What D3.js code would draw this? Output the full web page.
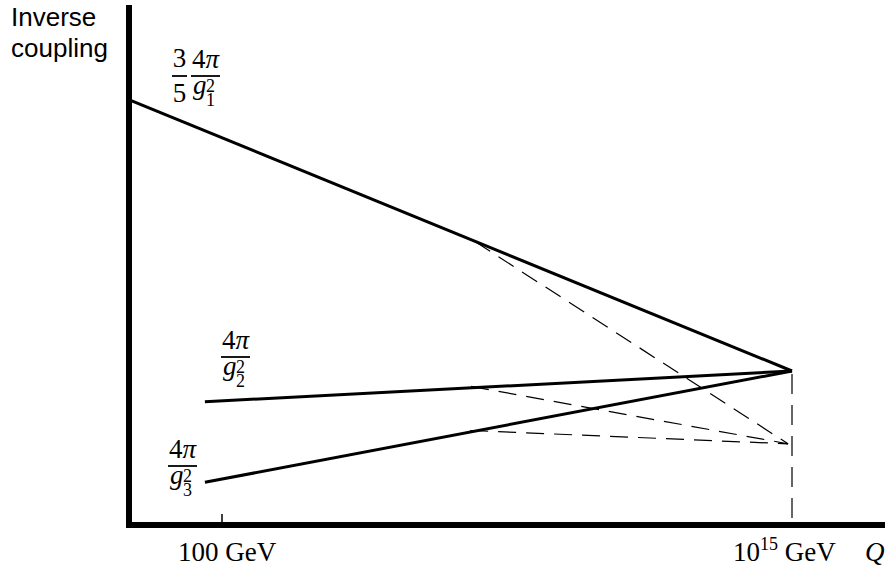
<!DOCTYPE html>
<html><head><meta charset="utf-8">
<script src="https://cdn.jsdelivr.net/npm/d3@7"></script>
<style>body{margin:0;background:#fff}</style>
</head><body><svg id="chart" width="888" height="567"></svg>
<script>
// Running of the inverse gauge couplings vs log10(Q / GeV)
const couplingIndex = ["1", "2", "3"];
const startLogQ = [-0.1, 1.61, 1.61];
const startInv = [60.7, 17.6, 6.1];
const unifyLogQ = 15;
const unifyInv = 22.0;
// alternative running above a threshold (dashed)
const thresholdLogQ = [7.77, 7.68, 7.66];
const thresholdInv = [40.5, 19.8, 13.5];
const altUnifyLogQ = 14.91;
const altUnifyInv = 11.6;
const tickLogQ = [2, 15];

const svg = d3.select("#chart");
const x = d3.scaleLinear().domain([2, 15]).range([222, 792]);
const y = d3.scaleLinear().domain([0, 60]).range([525, 105]);
const line = d3.line().x(d => x(d[0])).y(d => y(d[1]));
const serif = "'Liberation Serif', 'DejaVu Serif', serif";
const sans = "'Liberation Sans', Arial, sans-serif";

// dashed alternatives
couplingIndex.forEach((c, i) => {
  svg.append("path")
    .attr("d", line([[thresholdLogQ[i], thresholdInv[i]], [altUnifyLogQ, altUnifyInv]]))
    .attr("fill", "none").attr("stroke", "#000").attr("stroke-width", 1.2)
    .attr("stroke-dasharray", "18,10");
});
// vertical dashed marker at the unification scale
svg.append("path")
  .attr("d", line([[unifyLogQ, unifyInv], [unifyLogQ, 0]]))
  .attr("fill", "none").attr("stroke", "#000").attr("stroke-width", 1.2)
  .attr("stroke-dasharray", "20,11").attr("stroke-dashoffset", -3);

// solid running lines
couplingIndex.forEach((c, i) => {
  svg.append("path")
    .attr("d", line([[startLogQ[i], startInv[i]], [unifyLogQ, unifyInv]]))
    .attr("fill", "none").attr("stroke", "#000").attr("stroke-width", 3);
});

// axes
svg.append("line").attr("x1", 129).attr("x2", 129).attr("y1", 5).attr("y2", 528)
  .attr("stroke", "#000").attr("stroke-width", 6);
svg.append("line").attr("x1", 126).attr("x2", 885).attr("y1", y(0)).attr("y2", y(0))
  .attr("stroke", "#000").attr("stroke-width", 6);
svg.append("line").attr("x1", x(tickLogQ[0])).attr("x2", x(tickLogQ[0]))
  .attr("y1", y(0) - 11).attr("y2", y(0))
  .attr("stroke", "#000").attr("stroke-width", 1.5);

// tick labels
svg.append("text").attr("x", x(tickLogQ[0]) - 44).attr("y", 561)
  .attr("font-family", serif).attr("font-size", 27).text("100 GeV");
const t15 = svg.append("text").attr("x", x(tickLogQ[1]) - 59).attr("y", 561)
  .attr("font-family", serif).attr("font-size", 27);
t15.append("tspan").text("10");
t15.append("tspan").attr("font-size", 18).attr("dy", -11).text("15");
t15.append("tspan").attr("dy", 11).text(" GeV");
svg.append("text").attr("x", 865).attr("y", 561)
  .attr("font-family", serif).attr("font-size", 27).attr("font-style", "italic").text("Q");

// y label
svg.append("text").attr("x", 11).attr("y", 26)
  .attr("font-family", sans).attr("font-size", 26).text("Inverse");
svg.append("text").attr("x", 11).attr("y", 57)
  .attr("font-family", sans).attr("font-size", 26).text("coupling");

// fraction helpers
function frac(x0, w, barY) {
  svg.append("line").attr("x1", x0).attr("x2", x0 + w).attr("y1", barY).attr("y2", barY)
    .attr("stroke", "#000").attr("stroke-width", 1.8);
}
function fourPiOverG(x0, barY, idx) {
  frac(x0, 29, barY);
  const num = svg.append("text").attr("x", x0 + 14.5).attr("y", barY - 8)
    .attr("text-anchor", "middle").attr("font-family", serif).attr("font-size", 27);
  num.append("tspan").text("4");
  num.append("tspan").attr("font-style", "italic").text("π");
  // g with stacked superscript 2 and subscript index
  const den = svg.append("text").attr("x", x0 + 2).attr("y", barY + 18)
    .attr("font-family", serif).attr("font-size", 27);
  den.append("tspan").attr("font-style", "italic").text("g");
  den.append("tspan").attr("x", x0 + 15).attr("dy", -2).attr("font-size", 18).text("2");
  den.append("tspan").attr("x", x0 + 15).attr("dy", 14).attr("font-size", 18).text(idx);
}
// 3/5 * 4π/g1²
frac(172, 15, 76);
svg.append("text").attr("x", 179.5).attr("y", 67).attr("text-anchor", "middle")
  .attr("font-family", serif).attr("font-size", 27).text("3");
svg.append("text").attr("x", 179.5).attr("y", 102).attr("text-anchor", "middle")
  .attr("font-family", serif).attr("font-size", 27).text("5");
fourPiOverG(191, 76, couplingIndex[0]);
fourPiOverG(221, 357, couplingIndex[1]);
fourPiOverG(168, 466, couplingIndex[2]);
</script></body></html>
